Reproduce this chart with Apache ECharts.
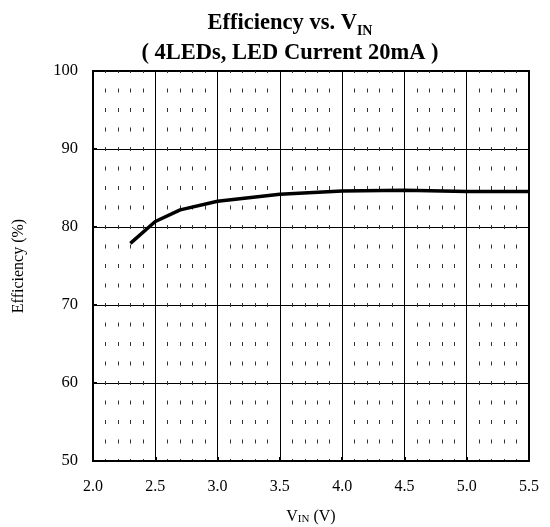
<!DOCTYPE html>
<html>
<head>
<meta charset="utf-8">
<script src="https://cdn.jsdelivr.net/npm/echarts@6/dist/echarts.min.js"></script>
<style>
  html, body { margin: 0; padding: 0; background: #fff; }
  #chart { width: 550px; height: 527px; }
</style>
</head>
<body>
<div id="chart"></div>
<script>
// measured points of the efficiency curve
const vin = [2.3, 2.5, 2.7, 3.0, 3.5, 4.0, 4.5, 5.0, 5.5];
const efficiency = [77.9, 80.7, 82.2, 83.3, 84.2, 84.6, 84.7, 84.55, 84.55];
const xTicks = [2.0, 2.5, 3.0, 3.5, 4.0, 4.5, 5.0, 5.5];
const yTicks = [50, 60, 70, 80, 90, 100];

const serif = "'Liberation Serif', 'Times New Roman', serif";
const chart = echarts.init(document.getElementById("chart"));

const option = {
  backgroundColor: "#fff",
  animation: false,
  title: {
    text: "{a|Efficiency vs. V}{s|IN}\n{a|( 4LEDs, LED Current 20mA )}",
    left: 285,
    textAlign: "center",
    top: 3,
    textStyle: {
      rich: {
        a: { fontFamily: serif, fontWeight: "bold", fontSize: 22.5, color: "#000", lineHeight: 30 },
        s: { fontFamily: serif, fontWeight: "bold", fontSize: 14, color: "#000", lineHeight: 14, verticalAlign: "bottom" },
      },
    },
  },
  grid: {
    left: 93,
    right: 21,
    top: 71,
    bottom: 66,
    outerBoundsMode: "none",
    show: true,
    borderColor: "#000",
    borderWidth: 2,
  },
  xAxis: {
    type: "value",
    min: xTicks[0],
    max: xTicks[xTicks.length - 1],
    interval: 0.5,
    name: "{v|V}{s|IN}{v| (V)}",
    nameLocation: "middle",
    nameGap: 48,
    nameTextStyle: {
      rich: {
        v: { fontFamily: serif, fontSize: 16, color: "#000" },
        s: { fontFamily: serif, fontSize: 11, color: "#000", verticalAlign: "bottom", lineHeight: 11 },
      },
    },
    axisLine: { show: true, lineStyle: { color: "#000", width: 2 } },
    axisTick: { show: true, inside: true, length: 4, lineStyle: { color: "#000", width: 2 } },
    axisLabel: {
      fontFamily: serif,
      fontSize: 16,
      color: "#000",
      margin: 18,
      formatter: (v) => v.toFixed(1),
    },
    splitLine: { show: true, lineStyle: { color: "#000", width: 1 } },
    minorTick: { show: false, splitNumber: 5 },
    minorSplitLine: {
      show: true,
      lineStyle: { color: "#333", width: 1, type: [4, 15.5], dashOffset: 2 },
    },
  },
  yAxis: {
    type: "value",
    min: yTicks[0],
    max: yTicks[yTicks.length - 1],
    interval: 10,
    name: "Efficiency (%)",
    nameLocation: "middle",
    nameGap: 66,
    nameTextStyle: { fontFamily: serif, fontSize: 16, color: "#000" },
    axisLine: { show: true, lineStyle: { color: "#000", width: 2 } },
    axisTick: { show: true, inside: true, length: 4, lineStyle: { color: "#000", width: 2 } },
    axisLabel: { fontFamily: serif, fontSize: 16.5, color: "#000", margin: 15 },
    splitLine: { show: true, lineStyle: { color: "#000", width: 1 } },
  },
  series: [
    {
      type: "line",
      data: vin.map((x, i) => [x, efficiency[i]]),
      symbol: "none",
      lineStyle: { color: "#000", width: 3.5 },
      z: 5,
    },
  ],
};

chart.setOption(option);
</script>
</body>
</html>
